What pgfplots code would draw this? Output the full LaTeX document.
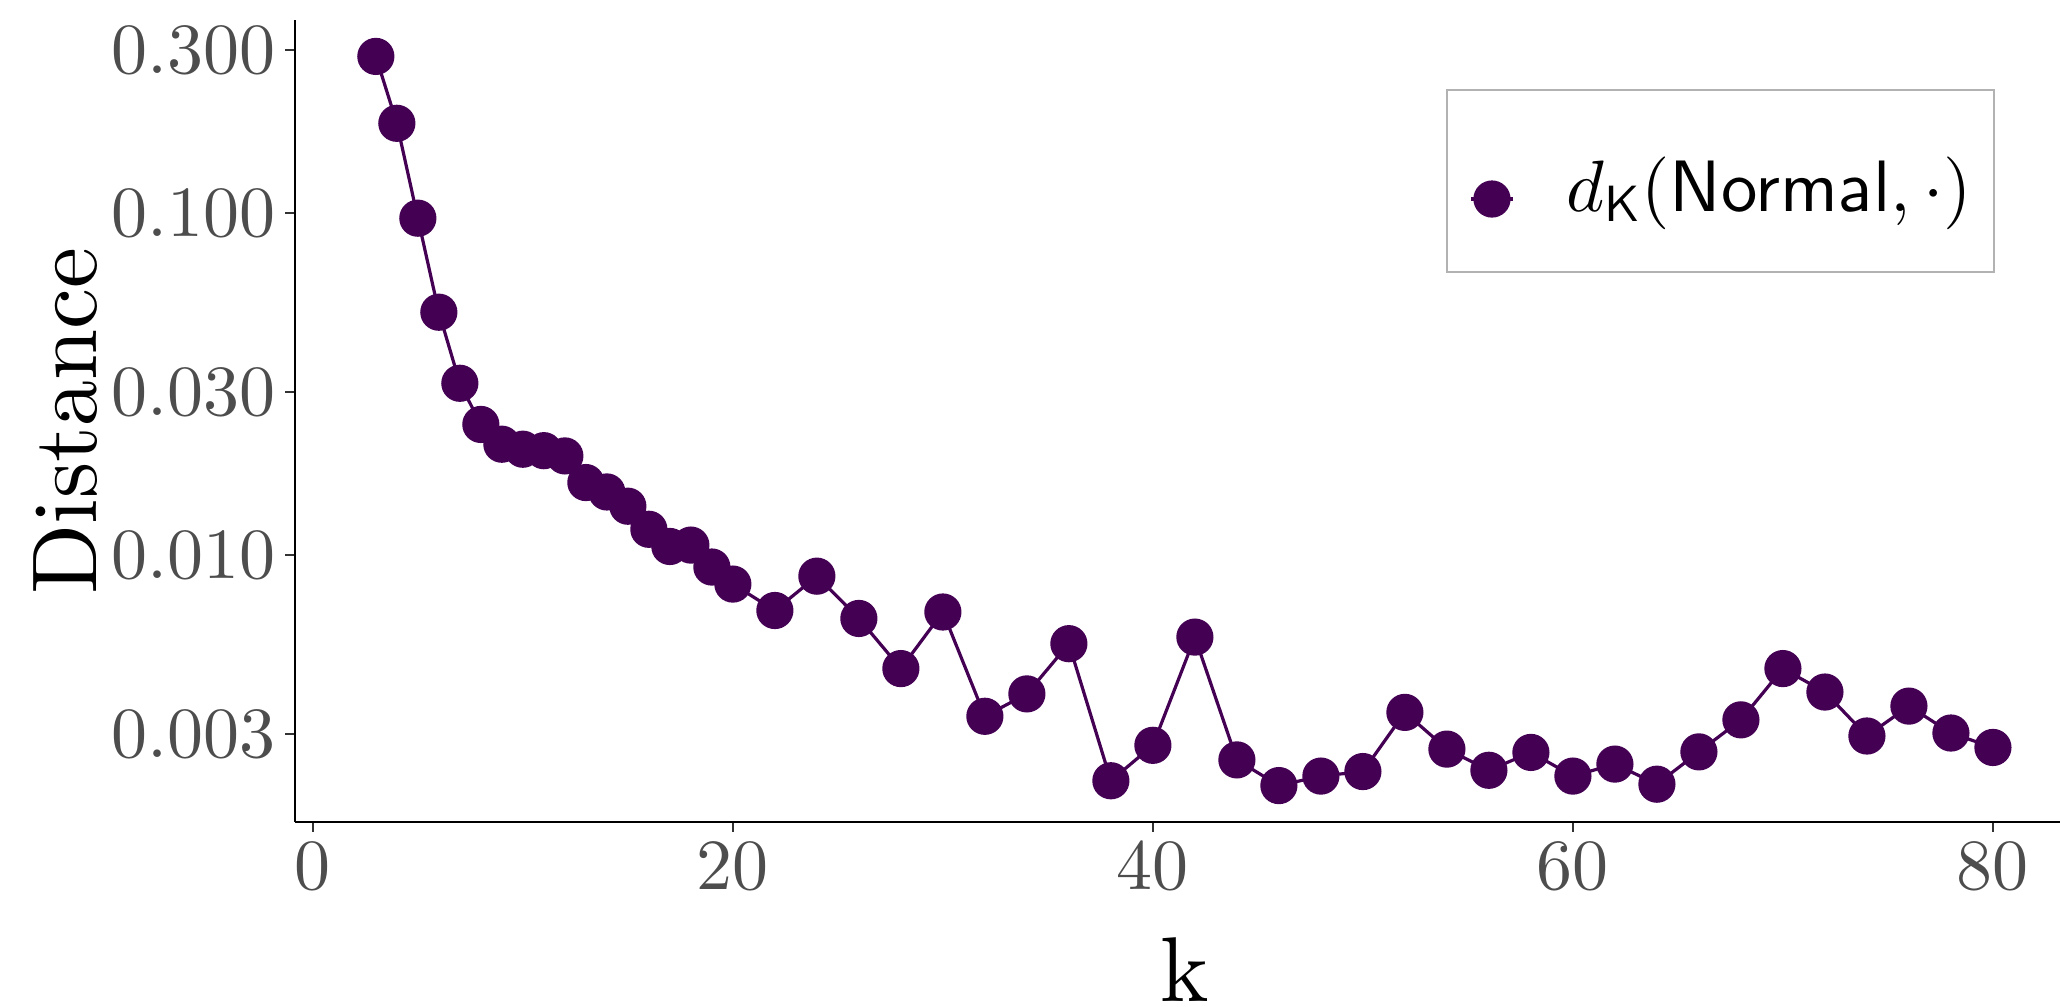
\documentclass[border=0pt]{standalone}
\usepackage{pgfplots}
\pgfplotsset{compat=1.18}

% 10pt design sizes of Computer/Latin Modern, scaled to any size
\DeclareFontFamily{TU}{lmrten}{}
\DeclareFontShape{TU}{lmrten}{m}{n}{<->\UnicodeFontFile{lmroman10-regular}{\UnicodeFontTeXLigatures}}{}
\renewcommand{\rmdefault}{lmrten}
\DeclareFontShape{OT1}{cmr}{m}{n}{<->cmr10}{}
\DeclareFontShape{OML}{cmm}{m}{it}{<->cmmi10}{}
\DeclareFontShape{OMS}{cmsy}{m}{n}{<->cmsy10}{}
\DeclareFontFamily{OT1}{cmss}{}
\DeclareFontShape{OT1}{cmss}{m}{n}{<->cmss10}{}

\definecolor{vir}{HTML}{440154}
\definecolor{ticklab}{HTML}{4D4D4D}
\definecolor{tickcol}{HTML}{333333}

% distance to the normal law for each k
\pgfplotstableread{
k d
3 0.287
4 0.183
5 0.0966
6 0.0513
7 0.0318
8 0.0241
9 0.0211
10 0.0204
11 0.0202
12 0.0195
13 0.0163
14 0.0153
15 0.0139
16 0.0119
17 0.0106
18 0.0107
19 0.00923
20 0.00823
22 0.00689
24 0.00868
26 0.00653
28 0.00466
30 0.00682
32 0.00338
34 0.00393
36 0.00551
38 0.00219
40 0.00278
42 0.00576
44 0.00252
46 0.00212
48 0.00226
50 0.00233
52 0.00347
54 0.00271
56 0.00235
58 0.00265
60 0.00226
62 0.00245
64 0.00214
66 0.00266
68 0.00330
70 0.00466
72 0.00398
74 0.00296
76 0.00362
78 0.00302
80 0.00274
}\distdata

\begin{document}
\begin{tikzpicture}
\begin{axis}[
  at={(0pt,0pt)}, anchor=south west,
  scale only axis, width=444.7pt, height=200.5pt,
  xmin=-0.85, xmax=83.85,
  ymode=log, ymin=0.001659, ymax=0.3667,
  axis lines*=left,
  axis line style={black, line width=0.55pt},
  xtick={0,20,40,60,80},
  ytick={0.003,0.01,0.03,0.1,0.3},
  yticklabels={0.003,0.010,0.030,0.100,0.300},
  xminorticks=false, yminorticks=false,
  tick align=outside, major tick length=2.4pt,
  tick style={tickcol, line width=0.55pt},
  ticklabel style={font=\fontsize{18}{20}\selectfont, color=ticklab, inner sep=0pt},
  yticklabel style={anchor=east, xshift=-2.35pt},
  xticklabel style={anchor=north, yshift=-2.6pt},
  xlabel={k}, ylabel={Distance},
  label style={font=\fontsize{23}{26}\selectfont, inner sep=0pt},
  x label style={at={(axis description cs:0.5,0)}, anchor=base, yshift=-44.75pt},
  y label style={at={(axis description cs:0,0.5)}, anchor=base, yshift=49.5pt},
  legend style={at={(axis description cs:0.64706,0.91397)}, anchor=north west,
    draw=gray!60, line width=0.5pt, fill=white,
    inner xsep=5.6pt, inner ysep=0pt,
    font=\fontsize{18.2}{22}\selectfont,
    column sep=12.9pt,
    cells={anchor=base west},
    nodes={inner sep=0pt, text height=30.25pt, text depth=15.25pt}},
  legend image code/.code={
    \draw[#1, mark repeat=2, mark phase=2]
      plot coordinates {(0pt,3pt) (5.25pt,3pt) (10.5pt,3pt)};
  },
]
\addplot[color=vir, line width=0.8pt, mark=*, mark size=4.25pt,
  mark options={draw=none, fill=vir}] table[x=k, y=d] {\distdata};
\addlegendentry{$d_{\mathsf{K}}(\mathsf{Normal},\cdot)$}
\end{axis}
\pgfresetboundingbox
\useasboundingbox (-73.75pt,-46.25pt) rectangle (441.25pt,205.5pt);
\end{tikzpicture}
\end{document}
